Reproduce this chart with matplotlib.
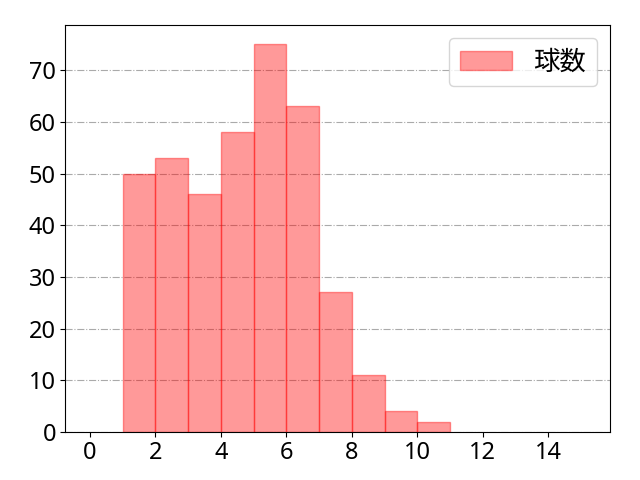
import matplotlib
matplotlib.use("Agg")
import matplotlib.pyplot as plt

plt.rcParams['font.family'] = ['Noto Sans', 'Noto Sans CJK JP', 'DejaVu Sans']

bin_left = [1, 2, 3, 4, 5, 6, 7, 8, 9, 10]
counts = [50, 53, 46, 58, 75, 63, 27, 11, 4, 2]
label = "球数"

fig = plt.figure(figsize=(6.4, 4.8), dpi=100)
ax = fig.add_axes([0.1016, 0.1, 0.8515, 0.848])
ax.bar(bin_left, counts, width=1.0, align='edge', color='red', alpha=0.4,
       edgecolor='red', linewidth=1.0, label=label, zorder=2)
ax.set_xlim(-0.76, 15.88)
ax.set_ylim(0, 78.75)
ax.set_xticks([0, 2, 4, 6, 8, 10, 12, 14])
ax.set_yticks([0, 10, 20, 30, 40, 50, 60, 70])
ax.tick_params(labelsize=17, pad=3)
for t in ax.get_xticklabels() + ax.get_yticklabels():
    t.set_fontweight('light')
ax.yaxis.grid(True, linestyle='-.', color='#aaaaaa', linewidth=0.8, zorder=0)
ax.set_axisbelow(True)
ax.legend(loc='upper right', prop={'family': ['Noto Sans CJK JP'], 'size': 19})
fig.savefig("out.png", dpi=100)
